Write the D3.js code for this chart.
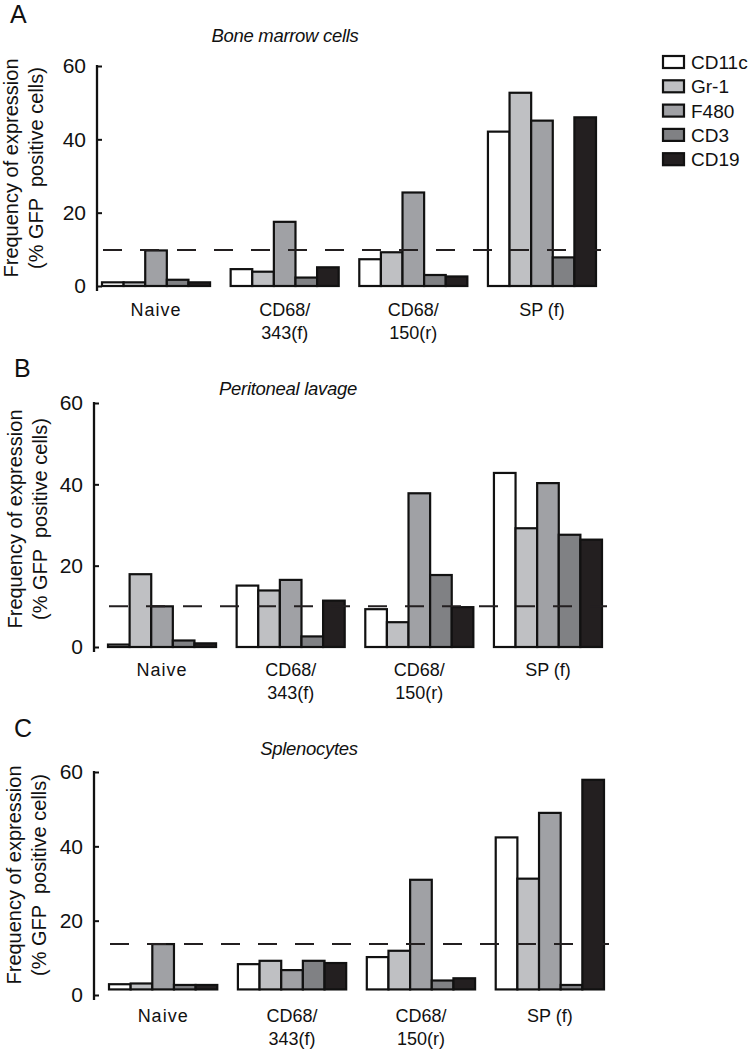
<!DOCTYPE html>
<html>
<head>
<meta charset="utf-8">
<script src="https://cdn.jsdelivr.net/npm/d3@7"></script>
<style>
  body { margin: 0; background: #fff; }
  svg { display: block; }
  text { font-family: "Liberation Sans", Arial, sans-serif; fill: #111; }
</style>
</head>
<body>
<div id="chart"></div>
<script>
// ---------- data ----------
const seriesNames = ["CD11c", "Gr-1", "F480", "CD3", "CD19"];
const seriesColors = ["#ffffff", "#bfc0c3", "#a0a1a5", "#808184", "#231f20"];
const categoryLines = [["Naive"], ["CD68/", "343(f)"], ["CD68/", "150(r)"], ["SP (f)"]];
const yTicks = [0, 20, 40, 60];

// values[category][series]
const boneMarrowValues = [
  [1.0, 1.0, 9.7, 1.7, 1.0],
  [4.6, 3.9, 17.5, 2.3, 5.1],
  [7.3, 9.2, 25.5, 3.0, 2.6],
  [42.1, 52.7, 45.1, 7.8, 46.0]
];
const peritonealValues = [
  [0.6, 17.9, 10.0, 1.6, 0.9],
  [15.1, 13.9, 16.5, 2.6, 11.4],
  [9.3, 6.1, 37.8, 17.7, 9.8],
  [42.8, 29.2, 40.3, 27.6, 26.4]
];
const splenocyteValues = [
  [2.9, 3.1, 13.7, 2.7, 2.7],
  [8.3, 9.2, 6.7, 9.2, 8.6],
  [10.2, 11.9, 31.0, 3.9, 4.5],
  [42.4, 31.3, 49.0, 2.7, 57.9]
];
const thresholds = [9.8, 10.0, 13.7];
const panelTitles = ["Bone marrow cells", "Peritoneal lavage", "Splenocytes"];
const panelLetters = ["A", "B", "C"];
const barBases = [0, 0, 1.5];

// ---------- layout ----------
const W = 750, H = 1050;
const svg = d3.select("#chart").append("svg").attr("width", W).attr("height", H);

const panels = [
  { values: boneMarrowValues, axisX: 97, y0: 286, y60: 66, x0: 102, x1: 596, labelDy: 30,
    letter: [10, 23], title: [285, 42], ytitle: [18, 43, 168] },
  { values: peritonealValues, axisX: 94, y0: 647, y60: 403, x0: 108, x1: 602, labelDy: 29,
    letter: [14, 377], title: [288, 395], ytitle: [22, 47, 519] },
  { values: splenocyteValues, axisX: 94, y0: 995, y60: 772, x0: 109, x1: 604, labelDy: 27,
    letter: [14, 737], title: [309, 755], ytitle: [21, 46, 875] }
];

panels.forEach((p, pi) => {
  const g = svg.append("g");
  const y = d3.scaleLinear().domain([0, 60]).range([p.y0, p.y60]);
  const xg = d3.scaleBand().domain(d3.range(categoryLines.length))
    .range([p.x0, p.x1]).paddingInner(0.16).paddingOuter(0);
  const xs = d3.scaleBand().domain(d3.range(seriesNames.length))
    .range([0, xg.bandwidth()]).padding(0);

  // panel letter
  g.append("text").attr("x", p.letter[0]).attr("y", p.letter[1])
    .attr("font-size", 25).text(panelLetters[pi]);

  // title
  g.append("text").attr("x", p.title[0]).attr("y", p.title[1])
    .attr("text-anchor", "middle").attr("font-size", 18.5)
    .attr("font-style", "italic").attr("letter-spacing", -0.3)
    .text(panelTitles[pi]);

  // y axis title
  const yt = g.append("g");
  yt.append("text")
    .attr("transform", `translate(${p.ytitle[0]},${p.ytitle[2]}) rotate(-90)`)
    .attr("text-anchor", "middle").attr("font-size", 20)
    .text("Frequency of expression");
  yt.append("text")
    .attr("transform", `translate(${p.ytitle[1]},${p.ytitle[2]}) rotate(-90)`)
    .attr("text-anchor", "middle").attr("font-size", 20)
    .attr("xml:space", "preserve")
    .text("(% GFP  positive cells)");

  // y axis
  const axis = d3.axisLeft(y).tickValues(yTicks).tickSizeInner(-5).tickSizeOuter(0).tickPadding(11);
  const ag = g.append("g").attr("transform", `translate(${p.axisX},0)`).call(axis);
  ag.select(".domain").remove();
  ag.selectAll(".tick line").attr("stroke", "#111").attr("stroke-width", 2);
  ag.selectAll(".tick text").attr("font-size", 21).attr("fill", "#111")
    .attr("font-family", '"Liberation Sans", Arial, sans-serif');
  ag.append("line").attr("x1", 0).attr("x2", 0)
    .attr("y1", y(60) - 1).attr("y2", y(0) + 5)
    .attr("stroke", "#111").attr("stroke-width", 2.3);

  // bars
  const base = barBases[pi];
  const groups = g.selectAll(".grp").data(p.values).enter().append("g")
    .attr("transform", (d, i) => `translate(${xg(i)},0)`);
  groups.selectAll("rect").data(d => d).enter().append("rect")
    .attr("x", (d, i) => xs(i))
    .attr("width", xs.bandwidth())
    .attr("y", d => y(d))
    .attr("height", d => y(base) - y(d))
    .attr("fill", (d, i) => seriesColors[i])
    .attr("stroke", "#111").attr("stroke-width", 2.2);

  // threshold dashed line (drawn over bars)
  g.append("line")
    .attr("x1", p.x0 + 1).attr("x2", p.x1 + 5)
    .attr("y1", y(thresholds[pi])).attr("y2", y(thresholds[pi]))
    .attr("stroke", "#231f20").attr("stroke-width", 2)
    .attr("stroke-dasharray", "19,18");

  // category labels
  categoryLines.forEach((lines, ci) => {
    lines.forEach((ln, li) => {
      g.append("text")
        .attr("x", xg(ci) + xg.bandwidth() / 2)
        .attr("y", p.y0 + p.labelDy + li * 23)
        .attr("text-anchor", "middle").attr("font-size", 18)
        .attr("letter-spacing", ln === "Naive" ? 1 : 0)
        .text(ln);
    });
  });
});

// legend
const lg = svg.append("g").attr("transform", "translate(663,56)");
seriesNames.forEach((name, i) => {
  const row = lg.append("g").attr("transform", `translate(0,${i * 24.3})`);
  row.append("rect").attr("x", 0).attr("y", 0).attr("width", 21).attr("height", 12)
    .attr("fill", seriesColors[i]).attr("stroke", "#111").attr("stroke-width", 2.2);
  row.append("text").attr("x", 28).attr("y", 13).attr("font-size", 19).text(name);
});
</script>
</body>
</html>
